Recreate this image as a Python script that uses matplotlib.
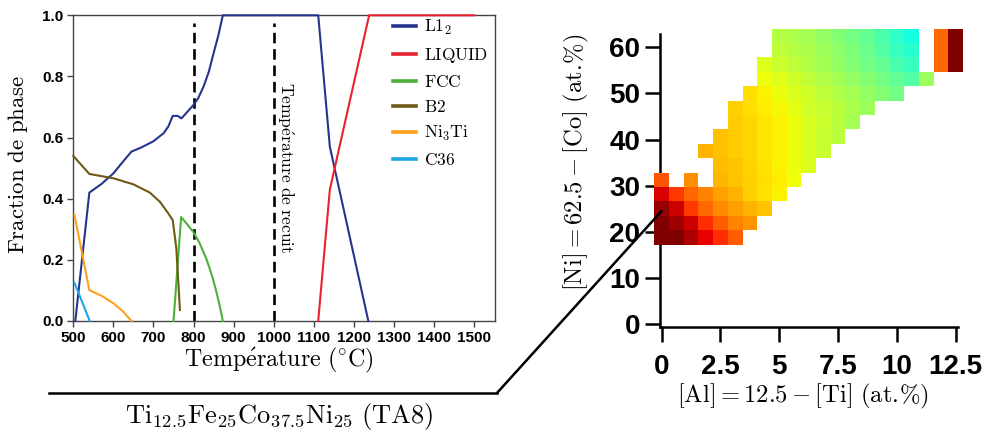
import numpy as np
import matplotlib
matplotlib.use('Agg')
import matplotlib.pyplot as plt
from matplotlib.lines import Line2D
from matplotlib.patches import ConnectionPatch

plt.rcParams['mathtext.fontset'] = 'cm'
plt.rcParams['font.family'] = ['Liberation Sans', 'DejaVu Sans']
plt.rcParams['font.weight'] = 'bold'

# ---------------- phase fraction data (left panel) ----------------
l12_T = [505, 540, 570, 600, 620, 645, 670, 700, 725, 737, 748, 760, 770, 800, 812, 825, 838, 850, 862, 873, 1111, 1140, 1236]
l12_f = [0.0, 0.42, 0.448, 0.483, 0.515, 0.554, 0.568, 0.588, 0.614, 0.636, 0.671, 0.671, 0.663, 0.707, 0.73, 0.767, 0.815, 0.876, 0.935, 1.0, 1.0, 0.57, 0.0]

liq_T = [1111, 1140, 1238, 1500]
liq_f = [0.0, 0.43, 1.0, 1.0]

fcc_T = [750, 769, 785, 800, 815, 833, 848, 858, 866, 873]
fcc_f = [0.0, 0.34, 0.315, 0.29, 0.255, 0.2, 0.14, 0.09, 0.045, 0.0]

b2_T = [500, 540, 600, 650, 691, 716, 737, 748, 757, 766]
b2_f = [0.54, 0.481, 0.467, 0.447, 0.42, 0.39, 0.352, 0.33, 0.238, 0.036]

ni3ti_T = [503, 540, 570, 600, 625, 645]
ni3ti_f = [0.347, 0.101, 0.083, 0.058, 0.03, 0.0]

c36_T = [503, 541]
c36_f = [0.125, 0.0]

phase_names = [r'$\mathrm{L1_2}$', r'$\mathrm{LIQUID}$', r'$\mathrm{FCC}$',
               r'$\mathrm{B2}$', r'$\mathrm{Ni_3Ti}$', r'$\mathrm{C36}$']
phase_colors = ['#26348f', '#e8222e', '#4db03a', '#6e5a14', '#ffa11a', '#1ea5e6']

anneal_T = [800, 1000]
temp_ticks = [500, 600, 700, 800, 900, 1000, 1100, 1200, 1300, 1400, 1500]
frac_ticks = [0.0, 0.2, 0.4, 0.6, 0.8, 1.0]

# ---------------- composition map data (right panel) ----------------
al_levels = [0, 0.625, 1.25, 1.875, 2.5, 3.125, 3.75, 4.375, 5, 5.625, 6.25,
             6.875, 7.5, 8.125, 8.75, 9.375, 10, 10.625, 11.25, 11.875, 12.5]
ni_levels = [18.75, 21.875, 25, 28.125, 31.25, 34.375, 37.5, 40.625, 43.75,
             46.875, 50, 53.125, 56.25, 59.375, 62.5]
N = np.nan
map_values = [
    [1.0, 1.0, 0.96, 0.91, 0.86, 0.81] + [N] * 15,
    [1.0, 0.97, 0.93, 0.86, 0.81, 0.77, 0.75] + [N] * 14,
    [0.98, 0.93, 0.85, 0.80, 0.765, 0.74, 0.72, 0.70] + [N] * 13,
    [0.92, 0.85, 0.80, 0.77, 0.74, 0.72, 0.69, 0.67, 0.655] + [N] * 12,
    [0.82, N, 0.76, N, 0.715, 0.70, 0.69, 0.675, 0.66, 0.64] + [N] * 11,
    [N] * 4 + [0.71, 0.70, 0.685, 0.67, 0.655, 0.635, 0.615] + [N] * 10,
    [N] * 3 + [0.72, 0.705, 0.694, 0.683, 0.667, 0.655, 0.635, 0.61, 0.59] + [N] * 9,
    [N] * 4 + [0.705, 0.695, 0.683, 0.667, 0.655, 0.635, 0.61, 0.59, 0.575] + [N] * 8,
    [N] * 5 + [0.695, 0.68, 0.665, 0.655, 0.635, 0.61, 0.595, 0.575, 0.55] + [N] * 7,
    [N] * 5 + [0.69, 0.675, 0.66, 0.645, 0.625, 0.605, 0.59, 0.575, 0.555, 0.54] + [N] * 6,
    [N] * 6 + [0.675, 0.655, 0.635, 0.615, 0.60, 0.58, 0.565, 0.55, 0.53, 0.51, 0.49] + [N] * 4,
    [N] * 7 + [0.64, 0.62, 0.60, 0.58, 0.565, 0.55, 0.53, 0.51, 0.49, 0.47, 0.45, 0.54] + [N] * 2,
    [N] * 7 + [0.62, 0.595, 0.58, 0.565, 0.55, 0.53, 0.51, 0.49, 0.47, 0.44, 0.42, N, 0.80, 1.0],
    [N] * 8 + [0.58, 0.57, 0.555, 0.54, 0.52, 0.50, 0.48, 0.45, 0.42, 0.40, N, 0.80, 1.0],
    [N] * 8 + [0.57, 0.56, 0.55, 0.53, 0.51, 0.49, 0.47, 0.44, 0.41, 0.375, N, 0.80, 1.0],
]
al_ticks = [0, 2.5, 5, 7.5, 10, 12.5]
al_ticklabels = ['0', '2.5', '5', '7.5', '10', '12.5']
ni_ticks = [0, 10, 20, 30, 40, 50, 60]
ta8_al, ta8_ni = 0, 24.5

W, H = 987, 432
fig = plt.figure(figsize=(W / 100, H / 100), dpi=100)

# ---------------- left panel ----------------
ax1 = fig.add_axes([73.3 / W, (H - 321) / H, 421.7 / W, 305.7 / H])
series = [(l12_T, l12_f), (liq_T, liq_f), (fcc_T, fcc_f), (b2_T, b2_f),
          (ni3ti_T, ni3ti_f), (c36_T, c36_f)]
for (t, f), name, col in zip(series, phase_names, phase_colors):
    ax1.plot(t, f, color=col, lw=1.5, label=name, clip_on=False, zorder=3)
ax1.vlines(anneal_T, 0, 0.975, colors='k', linestyles=(0, (4, 2.2)), lw=1.9, zorder=2)
ax1.text(1028, 0.502, r'$\mathrm{Temp\acute{e}rature\ de\ recuit}$', rotation=-90,
         ha='center', va='center', fontsize=12.6)
ax1.set_xlim(500, 1552)
ax1.set_ylim(0, 1)
ax1.set_xticks(temp_ticks)
ax1.set_yticks(frac_ticks)
ax1.set_yticklabels(['%.1f' % v for v in frac_ticks])
ax1.tick_params(direction='out', length=4, width=1, color='#444444', labelsize=11, pad=3)
for s in ax1.spines.values():
    s.set_color('#444444')
    s.set_linewidth(1.0)
ax1.set_xlabel(r'$\mathrm{Temp\acute{e}rature\ (^{\circ}C)}$', fontsize=17.3, va='center')
ax1.xaxis.set_label_coords(0.488, -0.128)
ax1.set_ylabel(r'$\mathrm{Fraction\ de\ phase}$', fontsize=16.5, va='center')
ax1.yaxis.set_label_coords(-0.130, 0.51)
leg = ax1.legend(loc='upper left', bbox_to_anchor=(0.757, 0.99), frameon=False,
                 fontsize=12.5, handlelength=1.38, handletextpad=0.45,
                 labelspacing=0.51, borderpad=0, borderaxespad=0)
for h in leg.legend_handles:
    h.set_linewidth(2.6)

# ---------------- right panel ----------------
ax2 = fig.add_axes([640.5 / W, (H - 328.6) / H, 329.3 / W, 304.4 / H])
ax2.pcolormesh(al_levels, ni_levels, np.ma.masked_invalid(np.array(map_values)),
               cmap='jet', vmin=0, vmax=1, shading='nearest', zorder=3)
ax2.set_xlim(-0.9, 13.1)
ax2.set_ylim(-1, 65)
ax2.spines['top'].set_visible(False)
ax2.spines['right'].set_visible(False)
ax2.spines['left'].set_position(('data', -0.07))
ax2.spines['left'].set_bounds(-0.65, 62.9)
ax2.spines['bottom'].set_position(('data', -0.65))
ax2.spines['bottom'].set_bounds(-0.07, 12.6)
for s in ('left', 'bottom'):
    ax2.spines[s].set_linewidth(1.8)
ax2.set_xticks(al_ticks)
ax2.set_xticklabels(al_ticklabels)
ax2.set_yticks(ni_ticks)
ax2.tick_params(direction='out', length=10.5, width=1.8, labelsize=20)
ax2.tick_params(axis='x', pad=8.6)
ax2.tick_params(axis='y', pad=3.6)
ax2.set_xlabel(r'$\mathrm{[Al]} = 12.5 - \mathrm{[Ti]\ (at.\!\%)}$', fontsize=17.7, va='center')
ax2.xaxis.set_label_coords(0.4935, -0.2237)
ax2.set_ylabel(r'$\mathrm{[Ni]} = 62.5 - \mathrm{[Co]\ (at.\!\%)}$', fontsize=17.7, va='center')
ax2.yaxis.set_label_coords(-0.1937, 0.5457)

# ---------------- connector and alloy label ----------------
fig.add_artist(Line2D([49 / W, 497 / W], [1 - 393 / H, 1 - 393 / H],
                      transform=fig.transFigure, color='k', lw=1.8))
con = ConnectionPatch(xyA=(497 / W, 1 - 393 / H), coordsA='figure fraction',
                      xyB=(ta8_al, ta8_ni), coordsB=ax2.transData,
                      color='k', lw=1.8)
fig.add_artist(con)
fig.text(279 / W, (H - 423) / H, r'$\mathrm{Ti_{12.5}Fe_{25}Co_{37.5}Ni_{25}\ (TA8)}$',
         ha='center', va='baseline', fontsize=19)

fig.savefig('out.png', dpi=100)
